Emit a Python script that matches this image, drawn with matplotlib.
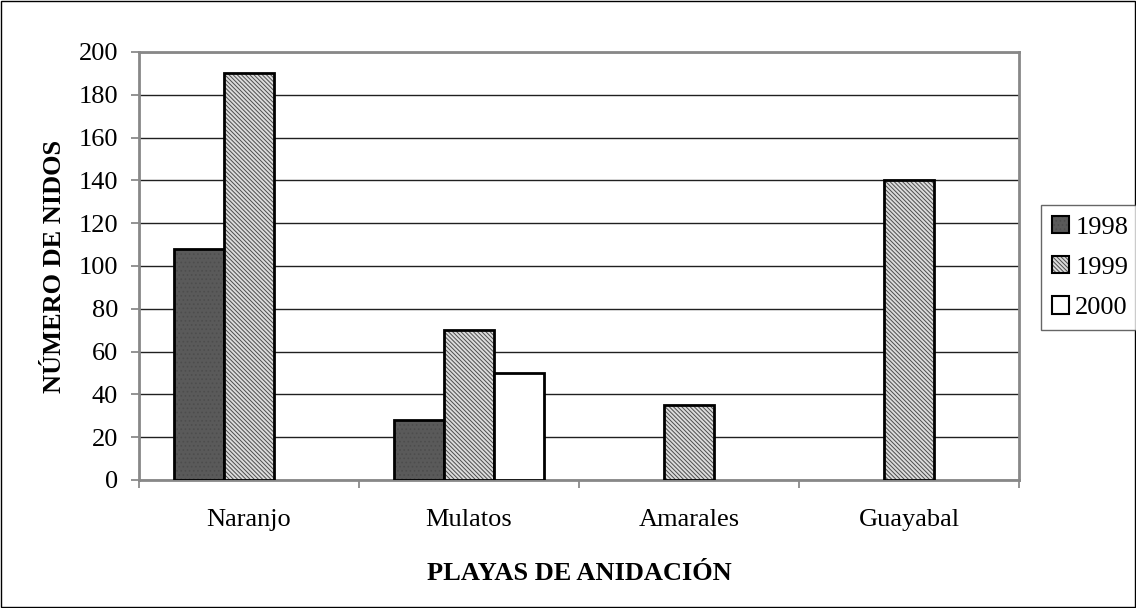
import matplotlib.pyplot as plt
import numpy as np
from matplotlib.patches import Rectangle

plt.rcParams['font.family'] = ['Liberation Serif', 'DejaVu Serif']
plt.rcParams['hatch.linewidth'] = 0.7

playas = ['Naranjo', 'Mulatos', 'Amarales', 'Guayabal']
n_1998 = [108, 28, 0, 0]
n_1999 = [190, 70, 35, 140]
n_2000 = [0, 50, 0, 0]
years = ['1998', '1999', '2000']

fig = plt.figure(figsize=(11.36, 6.08), dpi=100)
ax = fig.add_axes([139 / 1136, 128 / 608, 880 / 1136, 428 / 608])

x = np.arange(len(playas))
width = 0.227
styles = [
    dict(facecolor='#5a5a5a', hatch='....', edgecolor='black'),
    dict(facecolor='#dcdcdc', hatch='\\\\\\\\\\\\\\\\', edgecolor='black'),
    dict(facecolor='white', edgecolor='black'),
]
handles = []
for i, (vals, st) in enumerate(zip([n_1998, n_1999, n_2000], styles)):
    pos = x + (i - 1) * width
    vv = np.array(vals, dtype=float)
    mask = vv > 0
    bars = ax.bar(pos[mask], vv[mask], width, linewidth=2, zorder=3, **st)
    for b in bars:
        b._hatch_color = (0.3, 0.3, 0.3, 1)
    h = Rectangle((0, 0), 1, 1, linewidth=1.5, **st)
    h._hatch_color = (0.3, 0.3, 0.3, 1)
    handles.append(h)

ax.set_xlim(-0.5, len(playas) - 0.5)
ax.set_ylim(0, 200)
ax.set_yticks(range(0, 201, 20))
ax.set_xticks(x)
ax.set_xticklabels(playas)
ax.set_xticks(np.arange(-0.5, len(playas), 1), minor=True)
ax.tick_params(axis='x', which='major', length=0, pad=21, labelsize=19)
ax.tick_params(axis='x', which='minor', length=6, width=1.2, color='#808080')
ax.tick_params(axis='y', length=6, width=1.2, color='#808080', labelsize=19, pad=9)
ax.yaxis.grid(True, color='#202020', linewidth=1)
ax.set_axisbelow(True)
for s in ax.spines.values():
    s.set_color('#888888')
    s.set_linewidth(2)

ax.set_ylabel('NÚMERO DE NIDOS', fontsize=19, fontweight='bold', labelpad=9)
ax.set_xlabel('PLAYAS DE ANIDACIÓN', fontsize=19, fontweight='bold', labelpad=22)

leg = fig.legend(handles, years, loc='upper left', bbox_to_anchor=(1041 / 1136, 1 - 205 / 608),
                 fontsize=19, frameon=True, fancybox=False, edgecolor='#404040',
                 handlelength=0.65, handleheight=0.65, handletextpad=0.25,
                 borderpad=0.4, labelspacing=0.65, borderaxespad=0)
leg.get_frame().set_linewidth(1)

fig.patches.append(Rectangle((0.0005, 0.001), 0.999, 0.998, transform=fig.transFigure,
                             fill=False, edgecolor='black', linewidth=1))

fig.savefig('out.png', dpi=100)
